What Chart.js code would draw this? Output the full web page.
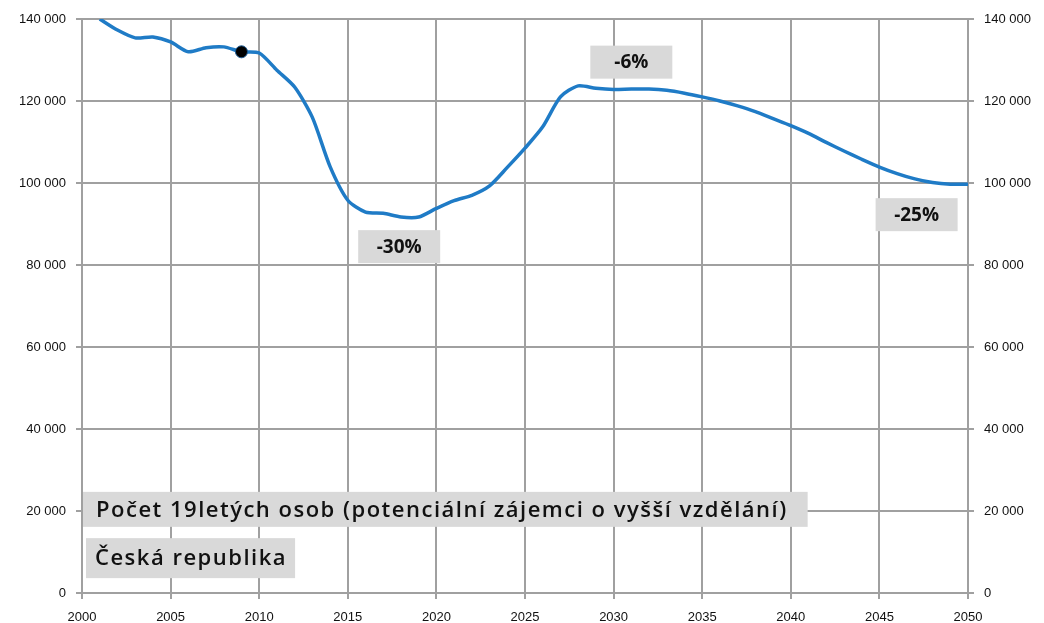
<!DOCTYPE html>
<html lang="cs">
<head>
	<meta charset="UTF-8">
	<title>Počet 19letých osob</title>
	<script src="https://cdn.jsdelivr.net/npm/chart.js@4/dist/chart.umd.min.js"></script>
	<style>
		html,body{margin:0;padding:0;background:#fff;}
		#wrap{width:1044px;height:623px;position:relative;}
	</style>
</head>
<body>
	<div id="wrap"><canvas id="chart" width="1044" height="623"></canvas></div>

	<script>

		// years and number of 19-year-olds
		var years = [2001,2002,2003,2004,2005,2006,2007,2008,2009,2010,
			2011,2012,2013,2014,2015,2016,2017,2018,2019,2020,
			2021,2022,2023,2024,2025,2026,2027,2028,2029,2030,
			2031,2032,2033,2034,2035,2036,2037,2038,2039,2040,
			2041,2042,2043,2044,2045,2046,2047,2048,2049,2050];
		var persons = [140000,137300,135400,135600,134400,132000,133000,133200,132000,131700,
			127500,123400,116000,104000,95800,92900,92600,91700,91700,93800,
			95700,97000,99300,103800,108500,113700,121000,123700,123100,122800,
			122900,122900,122600,121900,121000,120000,118800,117400,115700,114000,
			112100,109900,107800,105800,103900,102300,101000,100100,99700,99700];

		var markYear = [2009];
		var markValue = [132000];

		var noteText = ["-30%", "-6%", "-25%"];
		var noteYear = [2017.9, 2031.0, 2047.1];
		var noteValue = [84600, 129600, 92400];

		var titleText = ["Počet 19letých osob (potenciální zájemci o vyšší vzdělání)", "Česká republika"];
		var titleValue = [20400, 8500];

		var yTicks = [0,20000,40000,60000,80000,100000,120000,140000];

		function fmt(v){
			if(v===0) return "0";
			var s=String(v);
			return s.slice(0,s.length-3)+" "+s.slice(s.length-3);
		}

		var line = years.map(function(y,i){ return {x:y, y:persons[i]}; });
		var marks = markYear.map(function(y,i){ return {x:y, y:markValue[i]}; });

		var GRID="#a0a0a0";

		var boxes = {
			id:"boxes",
			afterDatasetsDraw:function(chart){
				var ctx=chart.ctx,
					xs=chart.scales.x,
					ys=chart.scales.y,
					area=chart.chartArea;
				ctx.save();
				ctx.textBaseline="middle";

				// percentage notes
				ctx.font="bold 19px 'Open Sans'";
				ctx.textAlign="center";
				noteText.forEach(function(t,i){
					var cx=xs.getPixelForValue(noteYear[i]),
						cy=ys.getPixelForValue(noteValue[i]);
					ctx.fillStyle="#d9d9d9";
					ctx.fillRect(cx-41,cy-16,82,33);
					ctx.fillStyle="#111";
					ctx.fillText(t,cx,cy+1);
				});

				// titles in the lower left corner
				ctx.textAlign="left";
				ctx.font="600 22px 'Open Sans'";
				ctx.letterSpacing="1.5px";
				titleText.forEach(function(t,i){
					var cy=ys.getPixelForValue(titleValue[i]),
						w=ctx.measureText(t).width,
						left=area.left+(i===0 ? 1 : 4),
						pad=(i===0 ? 13 : 9),
						h=(i===0 ? 35 : 40);
					ctx.fillStyle="#d9d9d9";
					ctx.fillRect(left,cy-h/2,w+pad+(i===0 ? 20 : 8),h);
					ctx.fillStyle="#111";
					ctx.fillText(t,left+pad,cy+1);
				});
				ctx.restore();
			}
		};

		new Chart(document.getElementById("chart"),{
			type:"scatter",
			data:{
				datasets:[{
					data:marks,
					showLine:false,
					pointRadius:6,
					pointBackgroundColor:"#000",
					pointBorderColor:"#1d5a92",
					pointBorderWidth:1
				},{
					data:line,
					showLine:true,
					borderColor:"#1f7bc6",
					borderWidth:3.5,
					pointRadius:0,
					tension:0.25
				}]
			},
			options:{
				responsive:false,
				animation:false,
				layout:{padding:{top:19,left:0,right:0,bottom:0}},
				plugins:{legend:{display:false},tooltip:{enabled:false}},
				scales:{
					x:{
						type:"linear",
						min:2000,max:2050,
						afterFit:function(s){ s.height=30; },
						ticks:{stepSize:5,color:"#111",font:{family:"'Liberation Sans'",size:13},padding:11,
							callback:function(v){ return String(v); }},
						grid:{color:GRID,lineWidth:2,tickLength:6},
						border:{color:GRID,width:2}
					},
					y:{
						position:"left",
						min:0,max:140000,
						afterFit:function(s){ s.width=82; },
						afterBuildTicks:function(s){ s.ticks=yTicks.map(function(v){ return {value:v}; }); },
						ticks:{color:"#111",font:{family:"'Liberation Sans'",size:13},padding:10,callback:fmt},
						grid:{color:GRID,lineWidth:2,tickLength:6},
						border:{color:GRID,width:2}
					},
					y2:{
						position:"right",
						min:0,max:140000,
						afterFit:function(s){ s.width=76; },
						afterBuildTicks:function(s){ s.ticks=yTicks.map(function(v){ return {value:v}; }); },
						ticks:{color:"#111",font:{family:"'Liberation Sans'",size:13},padding:10,callback:fmt},
						grid:{color:GRID,lineWidth:2,tickLength:6,drawOnChartArea:false},
						border:{color:GRID,width:2}
					}
				}
			},
			plugins:[boxes]
		});

	</script>
</body>
</html>
